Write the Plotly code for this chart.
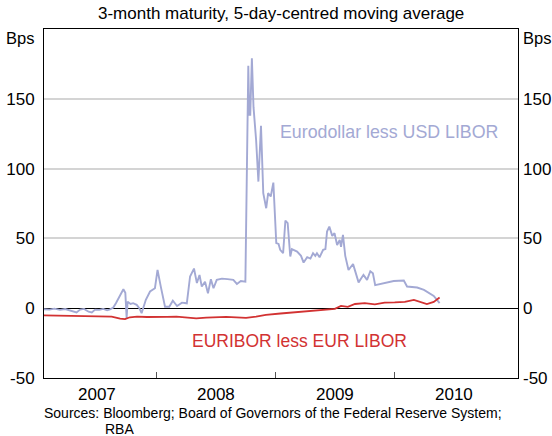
import plotly.graph_objects as go

# ---- data ----
usd_dates = ["2007-01-02","2007-01-19","2007-02-05","2007-02-20","2007-03-09","2007-03-25","2007-04-10",
"2007-04-29","2007-05-10","2007-05-22","2007-06-05","2007-06-15","2007-06-25","2007-07-08","2007-07-20",
"2007-08-01","2007-08-10","2007-08-20","2007-08-28","2007-09-10","2007-09-20","2007-09-26","2007-09-30",
"2007-10-03","2007-10-12","2007-10-20","2007-10-31","2007-11-08","2007-11-15","2007-11-28","2007-12-11",
"2007-12-26","2008-01-03","2008-01-13","2008-01-26","2008-02-08","2008-02-19","2008-03-03","2008-03-18",
"2008-04-02","2008-04-12","2008-04-24","2008-05-03","2008-05-11","2008-05-18","2008-05-28","2008-06-06",
"2008-06-15","2008-06-23","2008-07-03","2008-07-19","2008-08-05","2008-08-23","2008-09-03","2008-09-15",
"2008-09-29","2008-10-08","2008-10-11","2008-10-14","2008-10-19","2008-10-24","2008-11-01","2008-11-08",
"2008-11-16","2008-11-23","2008-12-02","2008-12-08","2008-12-16","2008-12-24","2009-01-02","2009-01-09",
"2009-01-14","2009-01-23","2009-01-30","2009-02-06","2009-02-14","2009-02-19","2009-03-07","2009-03-19",
"2009-03-27","2009-04-07","2009-04-17","2009-04-25","2009-05-02","2009-05-07","2009-05-15","2009-05-26",
"2009-06-02","2009-06-07","2009-06-14","2009-06-23","2009-06-30","2009-07-08","2009-07-16","2009-07-20",
"2009-07-26","2009-08-02","2009-08-12","2009-08-26","2009-09-02","2009-09-12","2009-09-27","2009-10-08",
"2009-10-18","2009-10-26","2009-11-02","2009-11-28","2009-12-29","2010-01-29","2010-02-08","2010-03-11",
"2010-04-01","2010-05-01","2010-05-16","2010-05-19"]
usd_values = [-0.5,-0.7,-1.0,-0.3,-1.2,-0.6,-1.5,
-3.0,-1.0,-0.5,-2.5,-3.0,-1.0,-1.2,-0.5,
-1.5,-0.8,0.5,3.6,9.0,13.6,11.0,-7.0,
4.7,3.0,3.6,2.4,0.0,-3.6,6.0,12.0,
14.3,27.5,15.5,1.0,1.0,5.4,1.6,4.0,
3.5,22.7,28.4,18.0,23.8,15.5,19.0,10.7,
20.8,14.3,20.3,21.2,20.8,20.3,17.4,19.5,
19.0,173.6,138.5,138.5,179.0,144.0,120.5,90.7,
130.6,82.4,71.6,82.4,80.0,90.0,46.6,46.0,
41.8,39.4,62.8,61.0,37.0,42.3,40.6,37.5,
32.7,36.5,35.5,39.4,37.5,39.4,36.5,41.8,
42.3,54.9,58.5,51.8,53.7,45.3,48.9,44.0,
52.5,37.5,27.4,31.7,26.2,18.5,23.9,20.3,
26.5,25.0,16.5,17.9,19.5,19.8,15.5,14.8,
13.1,8.8,4.7,3.6]

eur_dates = ["2007-01-02","2007-02-15","2007-04-01","2007-05-15","2007-07-01","2007-08-15","2007-09-10",
"2007-09-25","2007-10-10","2007-11-01","2007-12-01","2008-01-01","2008-02-01","2008-03-01","2008-04-01",
"2008-05-01","2008-06-01","2008-07-01","2008-08-01","2008-09-01","2008-10-01","2008-11-01","2008-12-01",
"2009-01-15","2009-03-01","2009-04-15","2009-06-01","2009-07-01","2009-07-20","2009-08-10","2009-09-01",
"2009-10-01","2009-11-01","2009-12-01","2010-01-01","2010-02-01","2010-03-01","2010-03-20","2010-04-10",
"2010-05-01","2010-05-19"]
eur_values = [-5.0,-5.2,-5.5,-5.3,-5.6,-6.0,-7.5,
-7.8,-6.5,-6.0,-6.3,-6.5,-6.2,-6.0,-6.8,
-7.3,-6.8,-6.5,-6.2,-6.6,-7.0,-6.0,-4.8,
-3.8,-3.0,-2.4,-1.5,-0.5,1.6,1.0,3.0,
3.6,2.8,4.0,4.2,4.6,6.0,4.7,3.0,
4.5,7.6]

year_ticks = ["2008-01-01", "2009-01-01", "2010-01-01"]
year_label_pos = ["2007-07-02", "2008-07-02", "2009-07-02", "2010-07-02"]
year_labels = ["2007", "2008", "2009", "2010"]
y_ticks = [-50, 0, 50, 100, 150]
y_tick_text = ["-50", "0", "50", "100", "150"]
x_range = ["2007-01-19", "2011-01-15"]
y_range = [-50, 200]

BLUE = "#a3a9d4"
RED = "#d23232"
FONT = "Liberation Sans, Arial, sans-serif"

fig = go.Figure()
fig.add_trace(go.Scatter(x=usd_dates, y=usd_values, mode="lines",
                         line=dict(color=BLUE, width=1.9), showlegend=False, hoverinfo="skip"))
fig.add_trace(go.Scatter(x=eur_dates, y=eur_values, mode="lines",
                         line=dict(color=RED, width=1.8), showlegend=False, hoverinfo="skip"))
# invisible trace to carry the right-hand axis
fig.add_trace(go.Scatter(x=eur_dates, y=eur_values, mode="lines", yaxis="y2",
                         line=dict(color="rgba(0,0,0,0)", width=0), showlegend=False, hoverinfo="skip"))

axis_font = dict(family=FONT, size=17, color="black")
fig.update_layout(
    width=552, height=436,
    margin=dict(l=44, r=34, t=29, b=58),
    paper_bgcolor="white", plot_bgcolor="white",
    font=dict(family=FONT, color="black"),
    xaxis=dict(range=x_range, type="date", tickvals=year_ticks, ticks="inside", ticklen=6,
               tickcolor="#555555", tickwidth=1, showticklabels=False, showgrid=False, automargin=False,
               showline=True, linecolor="black", linewidth=1, mirror=True, zeroline=False),
    yaxis=dict(range=y_range, tickvals=y_ticks, ticktext=y_tick_text, ticks="", tickfont=axis_font,
               ticklabelstandoff=5, automargin=False,
               showgrid=True, gridcolor="#d4d4d4", gridwidth=1.5,
               zeroline=True, zerolinecolor="black", zerolinewidth=1.2,
               showline=True, linecolor="black", linewidth=1, mirror=True),
    yaxis2=dict(range=y_range, tickvals=y_ticks, ticktext=y_tick_text, ticks="", tickfont=axis_font,
                ticklabelstandoff=4, automargin=False,
                overlaying="y", side="right", showgrid=False, zeroline=False, showline=False),
)

ann = []
for pos, lab in zip(year_label_pos, year_labels):
    ann.append(dict(x=pos, y=-0.046, xref="x", yref="paper", text=lab, showarrow=False,
                    font=dict(family=FONT, size=17, color="black"), xanchor="center", yanchor="middle"))
ann += [
    dict(x=0.5, xref="paper", y=1.043, yref="paper", text="3-month maturity, 5-day-centred moving average",
         showarrow=False, font=dict(family=FONT, size=17, color="black"), xanchor="center", yanchor="middle"),
    dict(x=-0.017, xref="paper", y=0.975, yref="paper", text="Bps", showarrow=False,
         font=dict(family=FONT, size=16.5, color="black"), xanchor="right", yanchor="middle"),
    dict(x=1.007, xref="paper", y=0.975, yref="paper", text="Bps", showarrow=False,
         font=dict(family=FONT, size=16.5, color="black"), xanchor="left", yanchor="middle"),
    dict(x=0.493, xref="paper", y=0.706, yref="paper", text="Eurodollar less USD LIBOR", showarrow=False,
         font=dict(family=FONT, size=17.8, color=BLUE), xanchor="left", yanchor="middle"),
    dict(x=0.308, xref="paper", y=0.107, yref="paper", text="EURIBOR less EUR LIBOR", showarrow=False,
         font=dict(family=FONT, size=17.5, color=RED), xanchor="left", yanchor="middle"),
    dict(x=-0.004, xref="paper", y=-0.099, yref="paper",
         text="Sources: Bloomberg; Board of Governors of the Federal Reserve System;", showarrow=False,
         font=dict(family=FONT, size=14, color="black"), xanchor="left", yanchor="middle"),
    dict(x=0.125, xref="paper", y=-0.146, yref="paper", text="RBA", showarrow=False,
         font=dict(family=FONT, size=14, color="black"), xanchor="left", yanchor="middle"),
]
fig.update_layout(annotations=ann)

fig.write_html("out.html", config={"displayModeBar": False},
               post_script="document.body.style.margin='0';document.body.style.overflow='hidden';")
